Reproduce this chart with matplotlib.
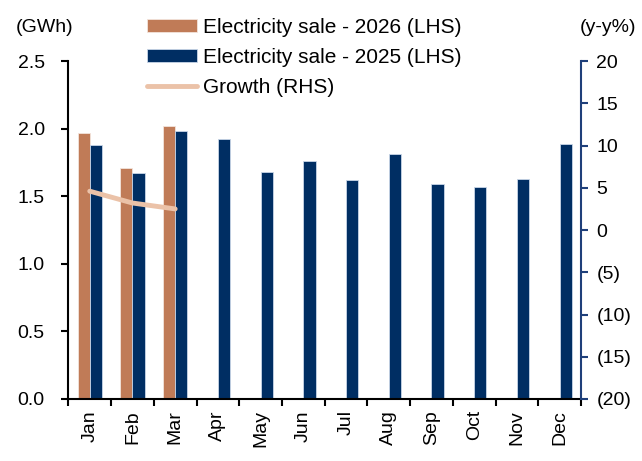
import numpy as np
import matplotlib.pyplot as plt
from matplotlib.ticker import FuncFormatter, FixedLocator

plt.rcParams["font.family"] = ["Liberation Sans", "DejaVu Sans"]
plt.rcParams["font.size"] = 14

# -----------------------------
# Data
# -----------------------------
MONTHS = ["Jan", "Feb", "Mar", "Apr", "May", "Jun",
          "Jul", "Aug", "Sep", "Oct", "Nov", "Dec"]
SALE_2026 = [1.97, 1.71, 2.02]
SALE_2025 = [1.88, 1.67, 1.98, 1.92, 1.68, 1.76,
             1.62, 1.81, 1.59, 1.57, 1.63, 1.89]
GROWTH = [4.6, 3.2, 2.5]

ORANGE = "#C07B57"
NAVY = "#002E63"
PEACH = "#EBC2A8"
AXIS_BLUE = "#1F3F7A"

# -----------------------------
# Chart
# -----------------------------
fig = plt.figure(figsize=(6.42, 4.61), dpi=100)
ax = fig.add_axes([0.1065, 0.1345, 0.7985, 0.733])
ax2 = ax.twinx()

x = np.arange(len(MONTHS))
w = 0.285
ax.bar(x[:len(SALE_2026)] - w / 2, SALE_2026, w, color=ORANGE,
       edgecolor="#f3e4dc", linewidth=0.6, label="Electricity sale - 2026 (LHS)")
ax.bar(x + w / 2, SALE_2025, w, color=NAVY,
       edgecolor="#c9d6e8", linewidth=0.6, label="Electricity sale - 2025 (LHS)")
ax2.plot(x[:len(GROWTH)], GROWTH, color=PEACH, linewidth=3.5,
         solid_capstyle="round", label="Growth (RHS)")

ax.set_xlim(-0.5, len(MONTHS) - 0.5)
ax.set_ylim(0, 2.5)
ax.set_yticks(np.arange(0, 2.51, 0.5))
ax.yaxis.set_major_formatter(FuncFormatter(lambda v, p: f"{v:.1f}"))
ax2.set_ylim(-20, 20)
ax2.set_yticks(np.arange(-20, 21, 5))
ax2.yaxis.set_major_formatter(
    FuncFormatter(lambda v, p: f"({abs(v):.0f})" if v < 0 else f"{v:.0f}"))

ax.set_xticks(x)
ax.set_xticklabels(MONTHS, rotation=90, fontsize=14)
ax.xaxis.set_minor_locator(FixedLocator(np.arange(-0.5, len(MONTHS), 1)))
ax.tick_params(axis="x", which="major", length=0, pad=8)
ax.tick_params(axis="x", which="minor", length=5, width=1.5, direction="out")
ax.tick_params(axis="y", length=5, width=1.5, direction="out", pad=12)
ax2.tick_params(axis="y", length=5, width=1.5, direction="out",
                color=AXIS_BLUE, pad=6)

for a in (ax, ax2):
    a.spines["top"].set_visible(False)
ax.spines["right"].set_visible(False)
ax.spines["left"].set_linewidth(1.5)
ax.spines["bottom"].set_linewidth(1.5)
ax2.spines["left"].set_visible(False)
ax2.spines["bottom"].set_visible(False)
ax2.spines["right"].set_color(AXIS_BLUE)
ax2.spines["right"].set_linewidth(1.5)

fig.text(0.07, 0.941, "(GWh)", ha="center", va="center")
fig.text(0.947, 0.941, "(y-y%)", ha="center", va="center")

h1, l1 = ax.get_legend_handles_labels()
h2, l2 = ax2.get_legend_handles_labels()
fig.legend(h1 + h2, l1 + l2, loc="upper left", bbox_to_anchor=(0.229, 0.961),
           frameon=False, fontsize=15, handlelength=2.4, handleheight=0.55,
           handletextpad=0.3, labelspacing=0.53, borderpad=0, borderaxespad=0)

fig.savefig("out.png", dpi=100)
